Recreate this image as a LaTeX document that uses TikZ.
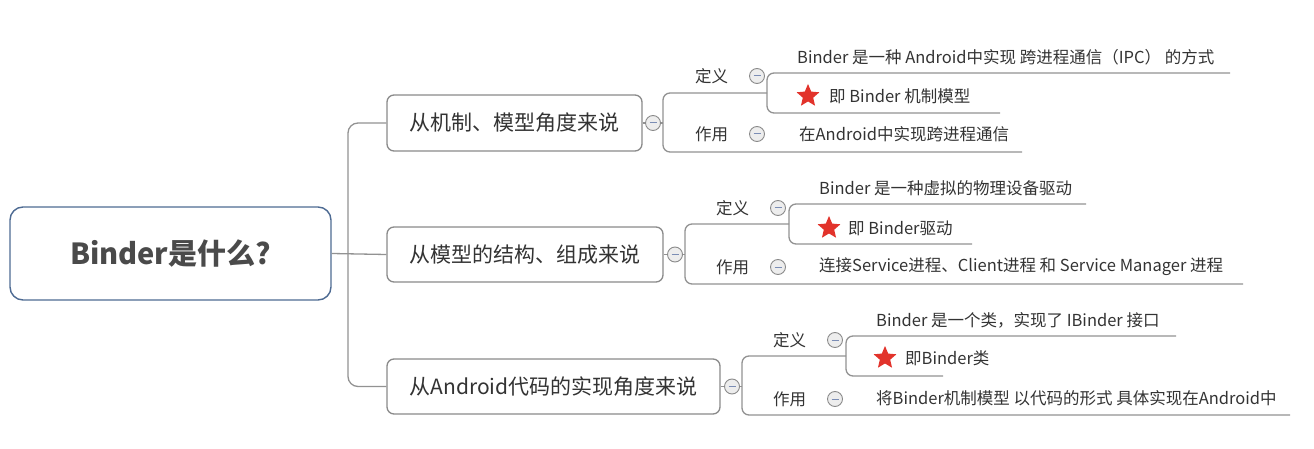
\documentclass[tikz,border=0pt]{standalone}
\usepackage{fontspec}
\setmainfont{Noto Sans CJK SC}
\usetikzlibrary{shapes.geometric}
\definecolor{ink}{HTML}{333333}
\definecolor{rootink}{HTML}{4A4A4A}
\definecolor{rootline}{HTML}{4E6B93}
\definecolor{wire}{HTML}{929292}
\definecolor{boxline}{HTML}{8A8A8A}
\definecolor{knob}{HTML}{EDEDED}
\definecolor{knobbar}{HTML}{7B8DB5}
\definecolor{starred}{HTML}{E2332B}
\tikzset{
  con/.style={draw=wire, line width=1.3pt, rounded corners=7pt},
  rootbox/.style={draw=rootline, line width=1.4pt, rounded corners=13pt, fill=white,
    text=rootink, font=\fontsize{29}{34}\selectfont\bfseries},
  topic/.style={draw=boxline, line width=1.3pt, rounded corners=7pt, fill=white,
    text=ink, font=\fontsize{21}{25}\selectfont},
  lab/.style={text=ink, inner sep=0pt, anchor=west, font=\fontsize{16.5}{19}\selectfont},
  fold/.style={circle, draw=boxline, fill=knob, line width=0.9pt, minimum size=15pt, inner sep=0pt,
    path picture={\draw[knobbar, line width=1pt]
      ([xshift=-3.5pt]path picture bounding box.center) -- ([xshift=3.5pt]path picture bounding box.center);}},
  starmark/.style={star, star points=5, star point ratio=2.2, fill=starred, minimum size=24pt, inner sep=0pt},
}

\begin{document}
\begin{tikzpicture}[x=1pt, y=-1pt]
  \useasboundingbox (0,0) rectangle (1314,449);
  % root and main topics
  \node[rootbox, minimum width=321pt, minimum height=93pt] (root) at (170.5,253.5) {Binder是什么?};
  \node[topic, minimum width=255pt, minimum height=56pt] (b1) at (514.5,123) {从机制、模型角度来说};
  \node[topic, minimum width=276pt, minimum height=55pt] (b2) at (525,254.5) {从模型的结构、组成来说};
  \node[topic, minimum width=333pt, minimum height=55pt] (b3) at (553.5,386.5) {从Android代码的实现角度来说};
  \coordinate (trunk) at (348,254.5);
  \draw[con, rounded corners=10pt] (b1.west) -| (trunk) |- (b3.west);
  \draw[con] (root.east) -- (b2.west);

  % section 1
  \node[fold] (c1) at (653,123) {};
  \coordinate (k1) at (663,123);
  \coordinate (j1) at (767,93);
  \coordinate (v1) at (1230,73);
  \coordinate (w1) at (1000,113);
  \coordinate (u1) at (1022,152);
  \draw[con] (b1.east) -- (c1.west);
  \draw[con] (c1.east) -- (k1);
  \draw[con] (j1) -| (k1) |- (u1);
  \draw[con] (v1) -| (j1) |- (w1);
  \node[lab] (d1) at (695,76) {定义};
  \node[fold] (dc1) at (757,76) {};
  \node[lab] (z1) at (695,134) {作用};
  \node[fold] (zc1) at (757,134) {};
  \node[lab] (t1) at (797,57) {Binder 是一种 Android中实现 跨进程通信（IPC） 的方式};
  \node[starmark] (s1) at (808,96) {};
  \node[lab] (n1) at (829,96) {即 Binder 机制模型};
  \node[lab] (e1) at (799,134) {在Android中实现跨进程通信};

  % section 2
  \node[fold] (c2) at (675,254.5) {};
  \coordinate (k2) at (685,254.5);
  \coordinate (j2) at (789,224);
  \coordinate (v2) at (1086,204);
  \coordinate (w2) at (972,244);
  \coordinate (u2) at (1243,284);
  \draw[con] (b2.east) -- (c2.west);
  \draw[con] (c2.east) -- (k2);
  \draw[con] (j2) -| (k2) |- (u2);
  \draw[con] (v2) -| (j2) |- (w2);
  \node[lab] (d2) at (716,208) {定义};
  \node[fold] (dc2) at (778,208) {};
  \node[lab] (z2) at (716,267) {作用};
  \node[fold] (zc2) at (778,267) {};
  \node[lab] (t2) at (819,188) {Binder 是一种虚拟的物理设备驱动};
  \node[starmark] (s2) at (829,228) {};
  \node[lab] (n2) at (848,228) {即 Binder驱动};
  \node[lab] (e2) at (819,267) {连接Service进程、Client进程 和 Service Manager 进程};

  % section 3
  \node[fold] (c3) at (732,386.5) {};
  \coordinate (k3) at (742,386.5);
  \coordinate (j3) at (846,356);
  \coordinate (v3) at (1176,336);
  \coordinate (w3) at (943,376);
  \coordinate (u3) at (1290,415);
  \draw[con] (b3.east) -- (c3.west);
  \draw[con] (c3.east) -- (k3);
  \draw[con] (j3) -| (k3) |- (u3);
  \draw[con] (v3) -| (j3) |- (w3);
  \node[lab] (d3) at (773,340) {定义};
  \node[fold] (dc3) at (835,340) {};
  \node[lab] (z3) at (773,399) {作用};
  \node[fold] (zc3) at (835,399) {};
  \node[lab] (t3) at (876,320) {Binder 是一个类，实现了 IBinder 接口};
  \node[starmark] (s3) at (885,358) {};
  \node[lab] (n3) at (905,358) {即Binder类};
  \node[lab] (e3) at (876,398) {将Binder机制模型 以代码的形式 具体实现在Android中};
\end{tikzpicture}
\end{document}
